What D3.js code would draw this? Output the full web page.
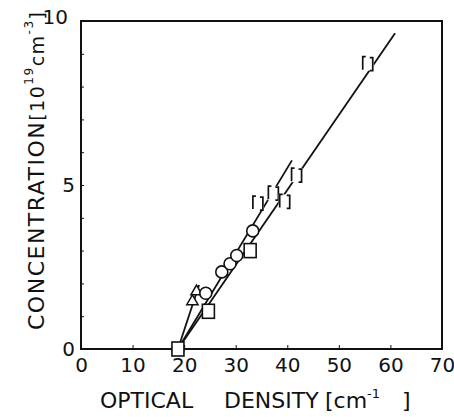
<!DOCTYPE html>
<html>
<head>
<meta charset="utf-8">
<script src="https://cdn.jsdelivr.net/npm/d3@7"></script>
<style>
  body { margin: 0; background: #fff; }
  svg { font-family: "DejaVu Sans", sans-serif; }
  .axis path, .axis line { stroke: #111; }
  .axis text { font-family: "DejaVu Sans", sans-serif; font-size: 20px; fill: #111; }
</style>
</head>
<body>
<div id="chart"></div>
<script>
// values
var xTicks = [0, 10, 20, 30, 40, 50, 60, 70];
var yTicks = [0, 5, 10];
var yMinor = [1, 2, 3, 4, 6, 7, 8, 9];

// fitted lines (start / end points)
var lineA = [[18.8, 0], [22.9, 1.95]];
var lineB = [[18.8, 0], [40.9, 5.75]];
var lineC = [[18.8, 0], [60.9, 9.63]];

// measured points
var triPts = [[21.6, 1.45], [22.4, 1.75]];
var circPts = [[18.8, 0], [24.2, 1.7], [27.3, 2.35], [28.9, 2.6], [30.2, 2.85], [33.3, 3.6]];
var brkPts = [[34.3, 4.45], [37.3, 4.75], [39.5, 4.5], [41.8, 5.3], [55.6, 8.7]];
var sqPts = [[18.8, 0], [24.7, 1.15], [32.8, 3.0]];

var width = 454, height = 417;
var margin = { left: 81, top: 21, right: 12, bottom: 68 };

var svg = d3.select("#chart").append("svg")
  .attr("width", width)
  .attr("height", height);

var x = d3.scaleLinear().domain([0, 70]).range([margin.left, width - margin.right]);
var y = d3.scaleLinear().domain([0, 10]).range([height - margin.bottom, margin.top]);

// frame
svg.append("rect")
  .attr("x", x(0)).attr("y", y(10))
  .attr("width", x(70) - x(0)).attr("height", y(0) - y(10))
  .attr("fill", "none").attr("stroke", "#111").attr("stroke-width", 2);

var xAxis = d3.axisBottom(x).tickValues(xTicks).tickSize(-4).tickPadding(9).tickFormat(d3.format("d"));
svg.append("g").attr("class", "axis")
  .attr("transform", "translate(0," + y(0) + ")")
  .call(xAxis)
  .call(g => g.select(".domain").remove())
  .call(g => g.selectAll(".tick").filter(d => d == 0 || d == 70).select("line").remove());

var yAxis = d3.axisLeft(y).tickValues(yTicks).tickSize(-3).tickPadding(6).tickFormat(d3.format("d"));
svg.append("g").attr("class", "axis")
  .attr("transform", "translate(" + x(0) + ",0)")
  .call(yAxis)
  .call(g => g.select(".domain").remove())
  .call(g => g.selectAll(".tick").filter(d => d == 0 || d == 10).select("line").remove())
  .call(g => g.selectAll(".tick").filter(d => d == 10).select("text").attr("dx", -7).attr("dy", "0.1em"));

svg.append("g").attr("class", "axis")
  .attr("transform", "translate(" + x(0) + ",0)")
  .call(d3.axisLeft(y).tickValues(yMinor).tickSize(-3).tickFormat(""))
  .call(g => g.select(".domain").remove());

// lines
var line = d3.line().x(d => x(d[0])).y(d => y(d[1]));
[lineA, lineB, lineC].forEach(function (l) {
  svg.append("path").attr("d", line(l))
    .attr("fill", "none").attr("stroke", "#111").attr("stroke-width", 1.8);
});

// markers
svg.selectAll(".tri").data(triPts).enter().append("path")
  .attr("d", d3.symbol().type(d3.symbolTriangle).size(55))
  .attr("transform", d => "translate(" + x(d[0]) + "," + y(d[1]) + ")")
  .attr("fill", "#fff").attr("stroke", "#111").attr("stroke-width", 1.5);

svg.selectAll(".circ").data(circPts).enter().append("circle")
  .attr("cx", d => x(d[0])).attr("cy", d => y(d[1])).attr("r", 6)
  .attr("fill", "#fff").attr("stroke", "#111").attr("stroke-width", 1.6);

svg.selectAll(".sq").data(sqPts).enter().append("rect")
  .attr("x", d => x(d[0]) - 6).attr("y", d => y(d[1]) - 7)
  .attr("width", 12).attr("height", 14)
  .attr("fill", "#fff").attr("stroke", "#111").attr("stroke-width", 1.6);

// broken squares, only the sides survive in the scan
var brk = svg.selectAll(".brk").data(brkPts).enter().append("g")
  .attr("transform", d => "translate(" + x(d[0]) + "," + y(d[1]) + ")");
brk.append("rect").attr("x", -6).attr("y", -7).attr("width", 12).attr("height", 14).attr("fill", "#fff");
brk.append("path").attr("d", "M-2,-7 L-5,-7 L-5,6 M2,-6 L5,-6 L5,7 L2,7")
  .attr("fill", "none").attr("stroke", "#111").attr("stroke-width", 1.7);

// axis titles
var xt = svg.append("text")
  .attr("y", 408)
  .attr("font-size", 22).attr("fill", "#111");
xt.append("tspan").attr("x", 100).text("OPTICAL");
xt.append("tspan").attr("x", 224).text("DENSITY");
xt.append("tspan").attr("x", 325).text("[cm");
xt.append("tspan").attr("font-size", 13).attr("dy", -10).text("-1");
xt.append("tspan").attr("x", 402).attr("dy", 10).text("]");

var yt = svg.append("text")
  .attr("transform", "translate(44,330) rotate(-90)")
  .attr("font-size", 22).attr("fill", "#111")
  .attr("textLength", 318).attr("lengthAdjust", "spacing");
yt.append("tspan").text("CONCENTRATION");
yt.append("tspan").attr("font-size", 19).text("[10");
yt.append("tspan").attr("font-size", 12).attr("dy", -11).text("19");
yt.append("tspan").attr("font-size", 19).attr("dy", 11).text("cm");
yt.append("tspan").attr("font-size", 12).attr("dy", -11).text("-3");
yt.append("tspan").attr("font-size", 19).attr("dy", 11).text("]");
</script>
</body>
</html>
